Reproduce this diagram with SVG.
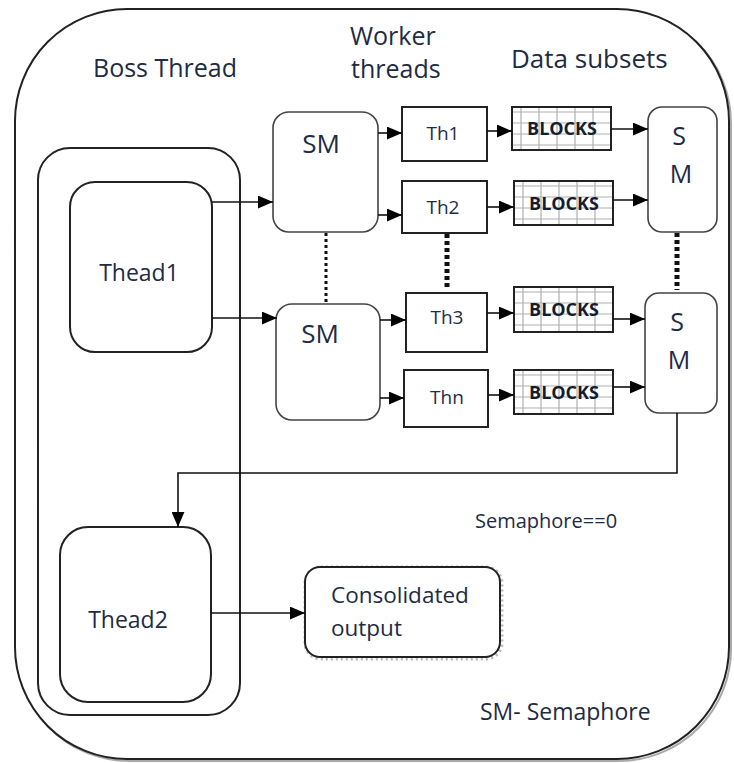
<svg xmlns="http://www.w3.org/2000/svg" width="734" height="763" viewBox="0 0 734 763">
  <style>
    .lbl { font-family: "Open Sans", "Liberation Sans", sans-serif; fill: #1e2b45; }
    .hdr { font-size: 25px; }
    .big { font-size: 23px; }
    .th { font-size: 19px; text-anchor: middle; }
    .blk { font-size: 18px; font-weight: bold; text-anchor: middle; fill: #141c30; }
    .box { fill: #fff; stroke: #222; stroke-width: 2; }
    .sm { fill: #fff; stroke: #444; stroke-width: 1.6; }
    .wire { fill: none; stroke: #111; stroke-width: 1.6; }
    .dots { fill: none; stroke: #111; stroke-width: 3; stroke-dasharray: 3 3; }
    .dots-thick { fill: none; stroke: #111; stroke-width: 5; stroke-dasharray: 4 3; }
  </style>
  <defs>
    <marker id="arrow" viewBox="0 0 14 12" refX="14" refY="6" markerWidth="15" markerHeight="13" markerUnits="userSpaceOnUse" orient="auto">
      <path d="M0,0 L14,6 L0,12 z" fill="#000"/>
    </marker>
    <pattern id="grid" patternUnits="userSpaceOnUse" width="18" height="11">
      <rect width="18" height="11" fill="#fff"/>
      <path d="M9,0 V11 M0,5 H18" stroke="#b0b0b0" stroke-width="1.2" fill="none"/>
    </pattern>
  </defs>

  <!-- outer frame -->
  <g id="frame">
    <rect x="17" y="11" width="714" height="750" rx="112" fill="none" stroke="#aaa" stroke-width="2"/>
    <rect x="15" y="9" width="714" height="750" rx="112" fill="#fff" stroke="#222" stroke-width="2"/>
  </g>

  <!-- column headings -->
  <g id="headings">
    <text class="lbl hdr" x="93" y="77">Boss Thread</text>
    <text class="lbl hdr" x="350" y="45">Worker</text>
    <text class="lbl hdr" x="351" y="78">threads</text>
    <text class="lbl" x="511" y="68" font-size="26">Data subsets</text>
  </g>

  <!-- boss thread container -->
  <g id="boss">
    <rect class="box" x="38" y="148" width="202" height="567" rx="32"/>
  </g>

  <g id="thead1">
    <rect class="box" x="70" y="182" width="142" height="170" rx="25"/>
    <text class="lbl big" x="139" y="281" text-anchor="middle">Thead1</text>
  </g>

  <g id="thead2">
    <rect class="box" x="60" y="527" width="151" height="175" rx="28"/>
    <text class="lbl big" x="128" y="628" text-anchor="middle">Thead2</text>
  </g>

  <!-- semaphores feeding workers -->
  <g id="sm1">
    <rect class="sm" x="273" y="112" width="105" height="120" rx="16"/>
    <text class="lbl" x="321" y="153" font-size="26" text-anchor="middle">SM</text>
  </g>
  <g id="sm2">
    <rect class="sm" x="276" y="304" width="104" height="116" rx="16"/>
    <text class="lbl" x="320" y="343" font-size="26" text-anchor="middle">SM</text>
  </g>

  <!-- worker threads -->
  <g id="th1">
    <rect class="box" x="402" y="107" width="85" height="54"/>
    <text class="lbl th" x="443" y="140">Th1</text>
  </g>
  <g id="th2">
    <rect class="box" x="402" y="181" width="85" height="52"/>
    <text class="lbl th" x="443" y="214">Th2</text>
  </g>
  <g id="th3">
    <rect class="box" x="406" y="293" width="81" height="59"/>
    <text class="lbl th" x="447" y="324">Th3</text>
  </g>
  <g id="thn">
    <rect class="box" x="404" y="370" width="84" height="57"/>
    <text class="lbl th" x="447" y="404">Thn</text>
  </g>

  <!-- data subsets -->
  <g id="blocks1" transform="translate(512,107)">
    <rect x="0" y="0" width="99" height="43" fill="url(#grid)" stroke="#222" stroke-width="2"/>
    <text class="lbl blk" x="50" y="28">BLOCKS</text>
  </g>
  <g id="blocks2" transform="translate(514,181)">
    <rect x="0" y="0" width="99" height="44" fill="url(#grid)" stroke="#222" stroke-width="2"/>
    <text class="lbl blk" x="50" y="29">BLOCKS</text>
  </g>
  <g id="blocks3" transform="translate(514,287)">
    <rect x="0" y="0" width="99" height="45" fill="url(#grid)" stroke="#222" stroke-width="2"/>
    <text class="lbl blk" x="50" y="29">BLOCKS</text>
  </g>
  <g id="blocks4" transform="translate(514,370)">
    <rect x="0" y="0" width="99" height="44" fill="url(#grid)" stroke="#222" stroke-width="2"/>
    <text class="lbl blk" x="50" y="29">BLOCKS</text>
  </g>

  <!-- collecting semaphores -->
  <g id="sm3">
    <rect class="sm" x="648" y="107" width="69" height="125" rx="14"/>
    <text class="lbl" x="679" y="145" font-size="25" text-anchor="middle">S</text>
    <text class="lbl" x="681" y="183" font-size="25" text-anchor="middle">M</text>
  </g>
  <g id="sm4">
    <rect class="sm" x="645" y="293" width="72" height="120" rx="14"/>
    <text class="lbl" x="677" y="331" font-size="25" text-anchor="middle">S</text>
    <text class="lbl" x="679" y="369" font-size="25" text-anchor="middle">M</text>
  </g>

  <g id="consolidated">
    <rect x="306" y="568" width="195" height="90" rx="15" fill="none" stroke="#bbb" stroke-width="5" stroke-dasharray="2 3"/>
    <rect x="305" y="567" width="195" height="90" rx="15" fill="#fff" stroke="#222" stroke-width="2"/>
    <text class="lbl" x="331" y="603" font-size="22.5">Consolidated</text>
    <text class="lbl" x="331" y="636" font-size="22.5">output</text>
  </g>

  <g id="notes">
    <text class="lbl" x="475" y="528" font-size="20">Semaphore==0</text>
    <text class="lbl" x="480" y="720" font-size="23">SM- Semaphore</text>
  </g>

  <!-- connectors -->
  <g id="connectors">
    <path class="wire" d="M212,202 H273" marker-end="url(#arrow)"/>
    <path class="wire" d="M212,318 H277" marker-end="url(#arrow)"/>
    <path class="wire" d="M378,133 H402" marker-end="url(#arrow)"/>
    <path class="wire" d="M378,215 H402" marker-end="url(#arrow)"/>
    <path class="wire" d="M380,320 H406" marker-end="url(#arrow)"/>
    <path class="wire" d="M380,398 H404" marker-end="url(#arrow)"/>
    <path class="wire" d="M487,131 H512" marker-end="url(#arrow)"/>
    <path class="wire" d="M487,207 H514" marker-end="url(#arrow)"/>
    <path class="wire" d="M487,313 H514" marker-end="url(#arrow)"/>
    <path class="wire" d="M488,395 H514" marker-end="url(#arrow)"/>
    <path class="wire" d="M611,129 H648" marker-end="url(#arrow)"/>
    <path class="wire" d="M613,200 H648" marker-end="url(#arrow)"/>
    <path class="wire" d="M613,319 H645" marker-end="url(#arrow)"/>
    <path class="wire" d="M613,387 H645" marker-end="url(#arrow)"/>
    <path class="wire" d="M677,413 V473 H178 V527" marker-end="url(#arrow)"/>
    <path class="wire" d="M211,613 H305" marker-end="url(#arrow)"/>
    <path class="dots" d="M326,233 V304"/>
    <path class="dots-thick" d="M447,234 V288"/>
    <path class="dots-thick" d="M677,233 V290"/>
  </g>
</svg>
